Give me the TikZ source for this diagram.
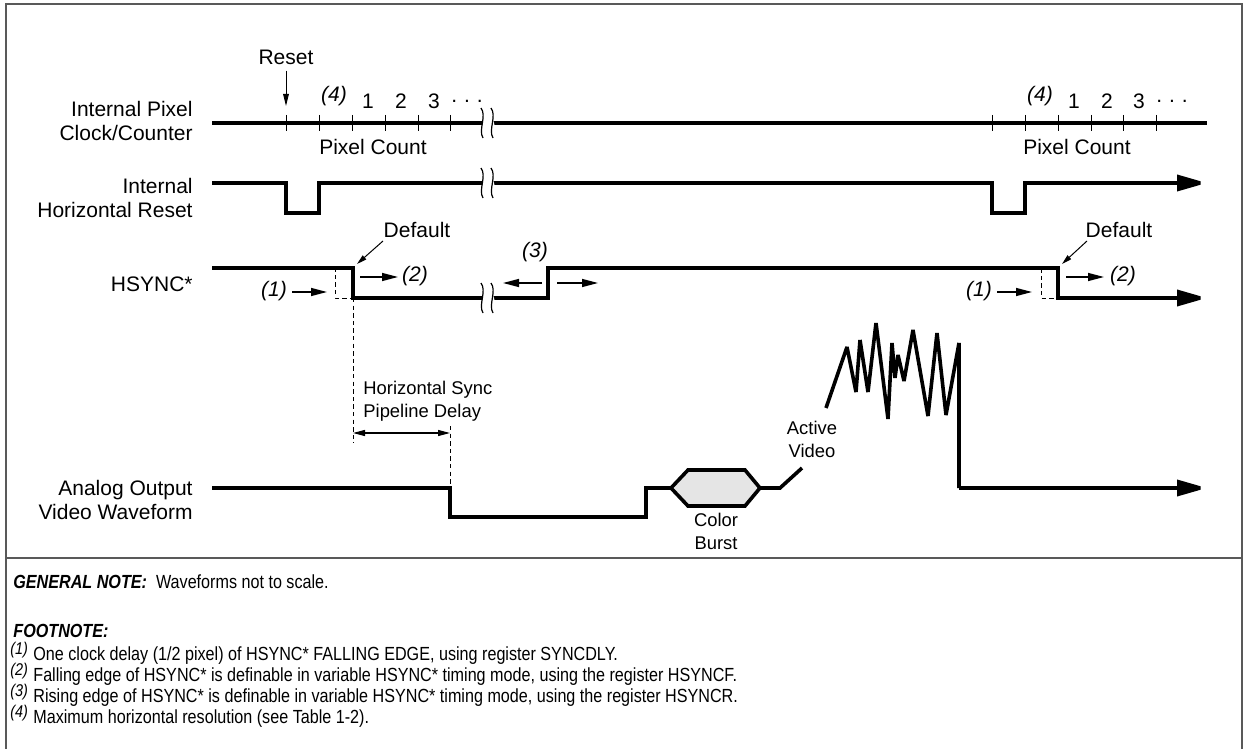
\documentclass[tikz,border=0pt]{standalone}
\usepackage{fontspec}
\setmainfont{Liberation Sans}
\newfontfamily\condfont[FakeStretch=0.85]{Liberation Sans}
\usetikzlibrary{arrows.meta}
\begin{document}
\begin{tikzpicture}[x=0.5pt,y=-0.5pt,
  sig/.style={line width=1.8pt, line join=miter, miter limit=3},
  sigarrow/.style={sig, -{Triangle[length=15pt,width=8pt]}},
  lbl/.style={font=\fontsize{10.5}{12}\selectfont, inner sep=0pt},
  sml/.style={font=\fontsize{9.2}{11.5}\selectfont, inner sep=0pt},
  ann/.style={line width=0.7pt, -{Triangle[length=8pt,width=4pt]}},
  thinarr/.style={line width=0.5pt, -{Triangle[length=5pt,width=2.6pt]}},
  tickmark/.style={line width=0.5pt},
  dsh/.style={line width=0.5pt, dash pattern=on 2.2pt off 1.6pt},
  note/.style={font=\condfont\fontsize{9.5}{11}\selectfont, inner sep=0pt, anchor=west, text height=6.5pt, text depth=1.2pt},
  fnum/.style={font=\condfont\itshape\fontsize{8.5}{10}\selectfont, inner sep=0pt, anchor=west, text height=6pt, text depth=1.2pt},
  frame/.style={draw=black!65, line width=0.7pt},
  brk/.pic={
    \fill[white] (-6,-15) .. controls (0,-7) and (-9,7) .. (-4,15) -- (7,15) .. controls (12,7) and (3,-7) .. (4,-15) -- cycle;
    \draw[line width=0.6pt] (-6,-15) .. controls (0,-7) and (-9,7) .. (-4,15);
    \draw[line width=0.6pt] (4,-15) .. controls (10,-7) and (1,7) .. (6,15);
  },
]
\useasboundingbox (0,0) rectangle (1244,749);
\fill[white] (0,0) rectangle (1244,749);
% frame
\draw[frame] (6,749) -- (6,4) -- (1242,4) -- (1242,749);
\draw[frame] (6,558) -- (1242,558);

% left labels
\node[lbl, anchor=east, align=right] (l1) at (193,121) {Internal Pixel\\Clock/Counter};
\node[lbl, anchor=east, align=right] (l2) at (193,198) {Internal\\Horizontal Reset};
\node[lbl, anchor=east] (l3) at (193,284) {HSYNC*};
\node[lbl, anchor=east, align=right] (l4) at (193,500) {Analog Output\\Video Waveform};

% ---- Internal Pixel Clock/Counter
\draw[sig] (212,123) -- (1207,123);
\foreach \x in {286,319,352,385,418,450,992,1025,1058,1091,1123,1156}
  \draw[tickmark] (\x,115) -- (\x,131);
\pic at (487,123) {brk};
\node[lbl] (reset) at (286,57) {Reset};
\coordinate (resettip) at (286,106);
\draw[line width=0.5pt, -{Triangle[length=6pt,width=2.8pt]}] (reset.south) ++(0,6) -- (resettip);
\node[lbl, font=\itshape\fontsize{10.5}{12}\selectfont] (c4a) at (334,96) {(4)};
\node[lbl] (c1a) at (368,101) {1};
\node[lbl] (c2a) at (401,101) {2};
\node[lbl] (c3a) at (434,101) {3};
\node[lbl] (cda) at (467,101) {.\,\,.\,\,.};
\node[lbl] (pca) at (373,147) {Pixel Count};
\node[lbl, font=\itshape\fontsize{10.5}{12}\selectfont] (c4b) at (1040,96) {(4)};
\node[lbl] (c1b) at (1074,101) {1};
\node[lbl] (c2b) at (1107,101) {2};
\node[lbl] (c3b) at (1139,101) {3};
\node[lbl] (cdb) at (1172,101) {.\,\,.\,\,.};
\node[lbl] (pcb) at (1077,147) {Pixel Count};

% ---- Internal Horizontal Reset
\draw[sigarrow] (212,183) -- (286,183) -- (286,213) -- (319,213) -- (319,183) -- (992,183) -- (992,213) -- (1025,213) -- (1025,183) -- (1207,183);
\pic at (487,183) {brk};

% ---- HSYNC*
\draw[dsh] (353,270) -- (335,270) -- (335,298) -- (353,298);
\draw[dsh] (1058,270) -- (1041,270) -- (1041,298) -- (1058,298);
\draw[dsh] (353,298) -- (353,443);
\draw[sigarrow] (212,268) -- (353,268) -- (353,298) -- (548,298) -- (548,268) -- (1058,268) -- (1058,298) -- (1207,298);
\pic at (487,298) {brk};

\node[lbl] (defa) at (417,230) {Default};
\coordinate (defatip) at (357,264);
\draw[thinarr] (383,241) -- (defatip);
\node[lbl, font=\itshape\fontsize{10.5}{12}\selectfont] (n2a) at (415,276) {(2)};
\coordinate (n2atip) at (398,277);
\draw[ann] (360,277) -- (n2atip);
\node[lbl, font=\itshape\fontsize{10.5}{12}\selectfont] (n1a) at (274,291) {(1)};
\coordinate (n1atip) at (327,292);
\draw[ann] (292,292) -- (n1atip);
\node[lbl, font=\itshape\fontsize{10.5}{12}\selectfont] (n3) at (535,252) {(3)};
\coordinate (n3l) at (503,283);
\coordinate (n3r) at (598,283);
\draw[ann] (542,283) -- (n3l);
\draw[ann] (557,283) -- (n3r);

\node[lbl] (defb) at (1119,230) {Default};
\coordinate (defbtip) at (1062,264);
\draw[thinarr] (1087,241) -- (defbtip);
\node[lbl, font=\itshape\fontsize{10.5}{12}\selectfont] (n2b) at (1123,276) {(2)};
\coordinate (n2btip) at (1104,277);
\draw[ann] (1066,277) -- (n2btip);
\node[lbl, font=\itshape\fontsize{10.5}{12}\selectfont] (n1b) at (979,291) {(1)};
\coordinate (n1btip) at (1032,292);
\draw[ann] (997,292) -- (n1btip);

% ---- Pipeline delay
\node[sml, anchor=west, align=left] (hsp) at (363,401) {Horizontal Sync\\Pipeline Delay};
\draw[dsh] (450,426) -- (450,488);
\coordinate (pdl) at (353,433);
\coordinate (pdr) at (450,433);
\draw[line width=0.6pt, {Triangle[length=6pt,width=3pt]}-{Triangle[length=6pt,width=3pt]}] (pdl) -- (pdr);

% ---- Analog output
\draw[sig] (212,488) -- (450,488) -- (450,517) -- (646,517) -- (646,488) -- (671,488);
\draw[sig, fill=black!10] (671,488) -- (688,470) -- (745,470) -- (760,488) -- (745,506) -- (688,506) -- cycle;
\draw[sig] (760,488) -- (780,488) -- (802,468);
\draw[sig] (826,408) -- (847,347) -- (856,392) -- (860,340) -- (868,392) -- (876,323) -- (888,419) -- (892,343) -- (895,378) -- (898,355) -- (904,381) -- (913,330) -- (928,416) -- (937,333) -- (946,415) -- (959,343) -- (959,488);
\draw[sigarrow] (959,488) -- (1207,488);
\node[sml, align=center] (av) at (812,439) {Active\\Video};
\node[sml, align=center] (cb) at (716,531) {Color\\Burst};

% ---- notes
\node[note] (gn) at (13,583) {\textbf{\textit{GENERAL NOTE:}}\ \ Waveforms not to scale.};
\node[note] (fn) at (13,632) {\textbf{\textit{FOOTNOTE:}}};
\node[fnum] (f1) at (10,650) {(1)};
\node[note] (t1) at (33,655) {One clock delay (1/2 pixel) of HSYNC* FALLING EDGE, using register SYNCDLY.};
\node[fnum] (f2) at (10,671) {(2)};
\node[note] (t2) at (33,676) {Falling edge of HSYNC* is definable in variable HSYNC* timing mode, using the register HSYNCF.};
\node[fnum] (f3) at (10,692) {(3)};
\node[note] (t3) at (33,697) {Rising edge of HSYNC* is definable in variable HSYNC* timing mode, using the register HSYNCR.};
\node[fnum] (f4) at (10,713) {(4)};
\node[note] (t4) at (33,718) {Maximum horizontal resolution (see Table 1-2).};
\end{tikzpicture}
\end{document}
